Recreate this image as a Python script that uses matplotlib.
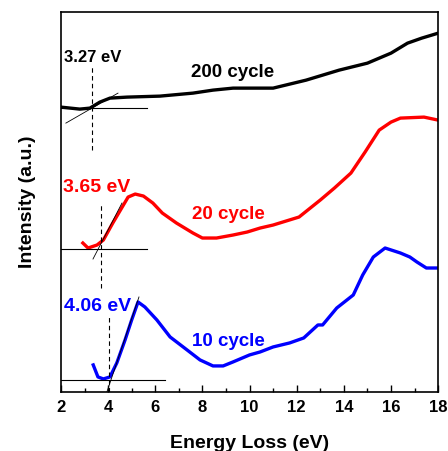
import numpy as np
import matplotlib
matplotlib.use("Agg")
import matplotlib.pyplot as plt

plt.rcParams['font.family'] = ['Liberation Sans', 'DejaVu Sans']
plt.rcParams['font.weight'] = 'bold'

# 200 cycle (black)
e200 = [2.0, 2.8, 3.23, 3.65, 4.08, 4.8, 6.2, 7.6, 8.45, 9.3, 10.45, 11.0, 12.4, 13.8, 15.0, 16.0, 16.7, 17.3, 18.0]
i200 = [285, 283, 284, 290, 294, 295, 296, 299, 302, 304, 304, 304, 312, 322, 329, 339, 349, 354, 359]

# 20 cycle (red)
e20 = [2.93, 3.15, 3.53, 3.8, 4.2, 4.6, 4.85, 5.15, 5.5, 5.9, 6.3, 6.9, 7.6, 8.0, 8.6, 9.3, 9.9,
       10.45, 11.0, 12.1, 13.0, 13.6, 14.3, 14.9, 15.5, 16.0, 16.4, 17.4, 18.0]
i20 = [149, 144, 147, 152, 169, 185, 195, 198, 196, 189, 179, 169, 159, 154, 154, 157, 160,
       164, 167, 175, 192, 204, 219, 240, 262, 270, 274, 275, 272]

# 10 cycle (blue)
e10 = [3.37, 3.57, 3.8, 4.08, 4.37, 4.72, 5.0, 5.27, 5.56, 6.07, 6.63, 7.35, 7.9, 8.45, 8.88, 9.3,
       10.0, 10.45, 11.0, 11.7, 12.3, 12.9, 13.1, 13.7, 14.4, 14.8, 15.25, 15.75, 16.4, 16.8, 17.1, 17.5, 18.0]
i10 = [27, 15, 13, 15, 29, 52, 72, 90, 85, 72, 55, 42, 32, 26, 26, 30,
       37, 40, 45, 49, 54, 67, 67, 84, 97, 117, 135, 144, 139, 135, 130, 124, 124]

# onset construction: (onset, baseline, tangent start, tangent end, dash range)
onsets = [
    (3.32, 284, (2.21, 269), (4.42, 299), (242, 325)),
    (3.70, 143, (3.36, 133), (4.59, 189), (104, 187)),
    (4.04, 12, (3.95, 0), (5.31, 95), (0, 77)),
]
base_ends = [5.65, 5.65, 6.4]

fig, ax = plt.subplots(figsize=(4.48, 4.51), dpi=100)
fig.subplots_adjust(left=0.136, right=0.978, bottom=0.131, top=0.973)

ax.plot(e200, i200, color='black', lw=2.4)
ax.plot(e20, i20, color='red', lw=2.4)
ax.plot(e10, i10, color='blue', lw=2.4)

for (x0, base, t0, t1, dash), xe in zip(onsets, base_ends):
    ax.plot([2, xe], [base, base], color='black', lw=0.8)
    ax.plot([t0[0], t1[0]], [t0[1], t1[1]], color='black', lw=0.6)
    ax.plot([x0, x0], dash, color='black', lw=0.8, ls=(0, (4, 3)))

ax.text(2.13, 335, "3.27 eV", color='black', fontsize=12, fontweight='bold', va='center')
ax.text(2.08, 205, "3.65 eV", color='red', fontsize=14, fontweight='bold', va='center')
ax.text(2.12, 85, "4.06 eV", color='blue', fontsize=14, fontweight='bold', va='center')
ax.text(7.5, 320, "200 cycle", color='black', fontsize=13.5, fontweight='bold', va='center')
ax.text(7.55, 178, "20 cycle", color='red', fontsize=13.5, fontweight='bold', va='center')
ax.text(7.55, 50, "10 cycle", color='blue', fontsize=13.5, fontweight='bold', va='center')

ax.set_xlim(2, 18)
ax.set_ylim(0, 380)
ax.set_xticks(np.arange(2, 19, 2))
ax.set_xticks(np.arange(3, 18, 2), minor=True)
ax.set_yticks([])
ax.tick_params(axis='x', direction='in', length=5, width=1, labelsize=12, pad=6)
ax.tick_params(axis='x', which='minor', direction='in', length=3, width=1)
for lbl in ax.get_xticklabels():
    lbl.set_fontweight('bold')
for sp in ax.spines.values():
    sp.set_linewidth(1.2)

ax.set_xlabel("Energy Loss (eV)", fontsize=14, fontweight='bold', labelpad=14)
ax.set_ylabel("Intensity (a.u.)", fontsize=14, fontweight='bold', labelpad=18)

fig.savefig("out.png", dpi=100)
